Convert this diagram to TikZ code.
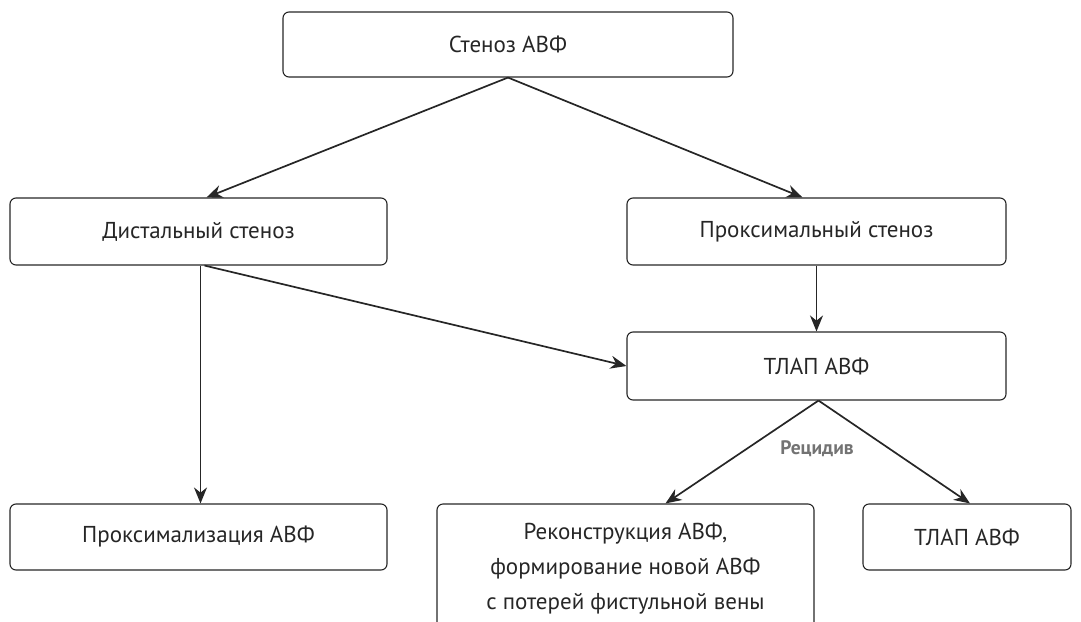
\documentclass[tikz,border=0pt]{standalone}
\usepackage{fontspec}
\setmainfont{PT Sans}
\usetikzlibrary{arrows.meta,calc}
\begin{document}
\begin{tikzpicture}[x=1pt,y=-1pt,
  box/.style={draw=black!85, line width=1.1pt, rounded corners=6pt, align=center, font=\fontsize{23}{35}\selectfont, text=black!85, inner sep=0pt},
  conn/.style={draw=black!85, line width=1.7pt, -{Stealth[length=16pt,width=13pt]}},
  lbl/.style={font=\fontsize{19.5}{22}\selectfont\bfseries, text=black!55}]
\useasboundingbox (0,0) rectangle (1081,621);
\clip (0,0) rectangle (1081,621);
\node[box, minimum width=450pt, minimum height=65pt] (top) at (508,44.5) {Стеноз АВФ};
\node[box, minimum width=377pt, minimum height=67pt] (dist) at (198.5,231.5) {Дистальный стеноз};
\node[box, minimum width=379pt, minimum height=67pt] (prox) at (816.5,231.5) {Проксимальный стеноз};
\node[box, minimum width=379pt, minimum height=68pt] (tlap) at (816.5,366) {ТЛАП АВФ};
\node[box, minimum width=377pt, minimum height=66pt] (proxim) at (198.5,537) {Проксимализация АВФ};
\node[box, minimum width=377pt, minimum height=140pt] (recon) at (625.5,574) {};
\node[align=center, font=\fontsize{23}{35}\selectfont, text=black!85] (recontext) at (625.5,569) {Реконструкция АВФ,\\формирование новой АВФ\\с потерей фистульной вены};
\node[box, minimum width=208pt, minimum height=66pt] (tlap2) at (967,537) {ТЛАП АВФ};
\node[lbl] (rec) at (817,449) {Рецидив};
\draw[conn] (top.south) -- ($(dist.north)+(8,0)$);
\draw[conn] (top.south) -- ($(prox.north)+(-14,0)$);
\draw[conn] ($(dist.south)+(2,0)$) -- ($(proxim.north)+(2,0)$);
\draw[conn] ($(dist.south)+(6,0)$) -- (tlap.west);
\draw[conn] (prox.south) -- (tlap.north);
\draw[conn] ($(tlap.south)+(2,0)$) -- ($(recon.north)+(40,0)$);
\draw[conn] ($(tlap.south)+(2,0)$) -- ($(tlap2.north)+(3,0)$);
\end{tikzpicture}
\end{document}
